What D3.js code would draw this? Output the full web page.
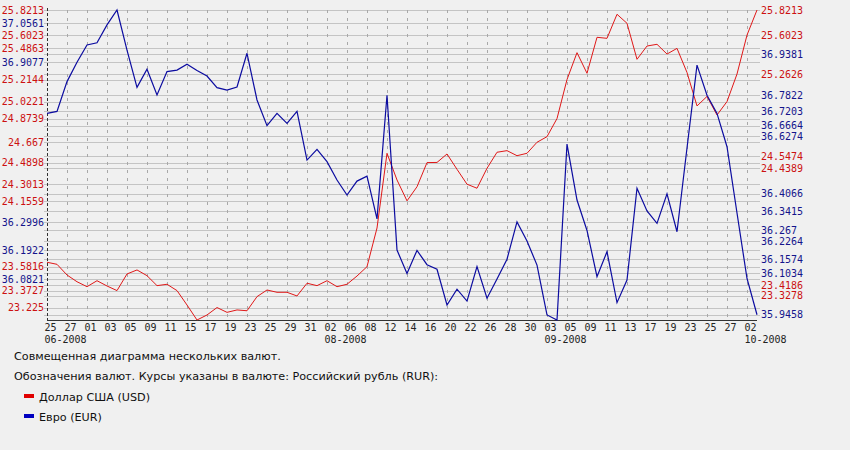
<!DOCTYPE html>
<html>
<head>
<meta charset="utf-8">
<script src="https://cdn.jsdelivr.net/npm/d3@7"></script>
<style>
  html, body { margin: 0; padding: 0; background: #f0f0f0; }
  svg { display: block; }
</style>
</head>
<body>
<svg id="chart" width="850" height="450"></svg>
<script>
// ---------- DATA ----------
const dates = [
  "2008-06-25","2008-06-26","2008-06-27","2008-06-28","2008-07-01","2008-07-02","2008-07-03","2008-07-04",
  "2008-07-05","2008-07-08","2008-07-09","2008-07-10","2008-07-11","2008-07-12","2008-07-15","2008-07-16",
  "2008-07-17","2008-07-18","2008-07-19","2008-07-22","2008-07-23","2008-07-24","2008-07-25","2008-07-26",
  "2008-07-29","2008-07-30","2008-07-31","2008-08-01","2008-08-02","2008-08-05","2008-08-06","2008-08-07",
  "2008-08-08","2008-08-09","2008-08-12","2008-08-13","2008-08-14","2008-08-15","2008-08-16","2008-08-19",
  "2008-08-20","2008-08-21","2008-08-22","2008-08-23","2008-08-26","2008-08-27","2008-08-28","2008-08-29",
  "2008-08-30","2008-09-02","2008-09-03","2008-09-04","2008-09-05","2008-09-06","2008-09-09","2008-09-10",
  "2008-09-11","2008-09-12","2008-09-13","2008-09-16","2008-09-17","2008-09-18","2008-09-19","2008-09-20",
  "2008-09-23","2008-09-24","2008-09-25","2008-09-26","2008-09-27","2008-09-30","2008-10-02","2008-10-03"
];

const usd = [
  23.620, 23.602, 23.509, 23.450, 23.407, 23.459, 23.413, 23.3727,
  23.518, 23.553, 23.503, 23.416, 23.428, 23.3727, 23.247, 23.1162,
  23.160, 23.225, 23.183, 23.204, 23.197, 23.320, 23.378, 23.358,
  23.358, 23.326, 23.437, 23.416, 23.459, 23.407, 23.428, 23.500,
  23.5816, 23.919, 24.571, 24.338, 24.1559, 24.279, 24.4898, 24.491,
  24.565, 24.431, 24.3013, 24.266, 24.440, 24.580, 24.594, 24.550,
  24.571, 24.667, 24.716, 24.8739, 25.2144, 25.449, 25.269, 25.583,
  25.574, 25.784, 25.705, 25.391, 25.507, 25.522, 25.437, 25.4863,
  25.276, 24.984, 25.067, 24.905, 25.0221, 25.2626, 25.6023, 25.8213
];

const eur = [
  36.713, 36.7203, 36.834, 36.9077, 36.9735, 36.982, 37.050, 37.1068,
  36.954, 36.812, 36.881, 36.783, 36.872, 36.878, 36.900, 36.876,
  36.855, 36.811, 36.802, 36.8135, 36.942, 36.764, 36.6664, 36.713,
  36.675, 36.7203, 36.535, 36.576, 36.529, 36.459, 36.402, 36.455,
  36.474, 36.311, 36.7822, 36.1922, 36.1034, 36.191, 36.1365, 36.119,
  35.983, 36.043, 35.998, 36.129, 36.0085, 36.0821, 36.1574, 36.2996,
  36.2264, 36.135, 35.945, 35.9258, 36.596, 36.383, 36.267, 36.091,
  36.186, 35.992, 36.078, 36.428, 36.3415, 36.294, 36.4066, 36.262,
  36.581, 36.897, 36.7822, 36.713, 36.586, 36.3335, 36.084, 35.9458
];

const usdDomain = [23.1162, 25.8213];
const eurDomain = [35.9258, 37.1068];

const leftTicksUSD  = [25.8213, 25.6023, 25.4863, 25.2144, 25.0221, 24.8739, 24.667, 24.4898, 24.3013, 24.1559, 23.5816, 23.3727, 23.225];
const leftTicksEUR  = [37.0561, 36.9077, 36.2996, 36.1922, 36.0821];
const rightTicksUSD = [25.8213, 25.6023, 25.2626, 24.5474, 24.4389, 23.4186, 23.3278];
const rightTicksEUR = [36.9381, 36.7822, 36.7203, 36.6664, 36.6274, 36.4066, 36.3415, 36.267, 36.2264, 36.1574, 36.1034, 35.9458];

const monthLabelDates = ["2008-06-25", "2008-08-02", "2008-09-03", "2008-10-02"];
const monthLabelTexts = ["06-2008", "08-2008", "09-2008", "10-2008"];

const titleText = "Совмещенная диаграмма нескольких валют.";
const subtitleText = "Обозначения валют. Курсы указаны в валюте: Российский рубль (RUR):";
const seriesNames = ["Доллар США (USD)", "Евро (EUR)"];

// ---------- STYLE ----------
const RED_LINE = "#e01818", BLUE_LINE = "#0c0ca0";
const RED_TXT = "#cc1111", BLUE_TXT = "#14148c";
const MONO = "'DejaVu Sans Mono', monospace";
const SANS = "'DejaVu Sans', sans-serif";

const L = 47, R = 757, T = 10, B = 320;

const svg = d3.select("#chart");
svg.append("rect").attr("width", 850).attr("height", 450).attr("fill", "#f0f0f0");

const x = d3.scalePoint().domain(dates).range([L, R]);
const yU = d3.scaleLinear().domain(usdDomain).range([B, T]);
const yE = d3.scaleLinear().domain(eurDomain).range([B, T]);

// horizontal gridlines
const gridG = svg.append("g");
const allGrid = [
  ...leftTicksUSD.map(v => yU(v)), ...leftTicksEUR.map(v => yE(v)),
  ...rightTicksUSD.map(v => yU(v)), ...rightTicksEUR.map(v => yE(v))
];
gridG.selectAll("line.h").data(allGrid).join("line")
  .attr("x1", L - 3).attr("x2", R + 3)
  .attr("y1", d => Math.round(d) + 0.5).attr("y2", d => Math.round(d) + 0.5)
  .attr("stroke", "#c4c4c4").attr("stroke-width", 1);

// vertical dashed gridlines at labelled dates
const labelled = dates.filter((d, i) => i % 2 === 0);
gridG.selectAll("line.v").data(labelled.slice(1)).join("line")
  .attr("x1", d => Math.round(x(d)) + 0.5).attr("x2", d => Math.round(x(d)) + 0.5)
  .attr("y1", T).attr("y2", B)
  .attr("stroke", "#a8a8a8").attr("stroke-width", 1).attr("stroke-dasharray", "3,5");

// axes lines
svg.append("line").attr("x1", L + 0.5).attr("x2", L + 0.5).attr("y1", T - 2).attr("y2", B)
  .attr("stroke", "#333").attr("stroke-dasharray", "3,2");
svg.append("line").attr("x1", L).attr("x2", R).attr("y1", B + 0.5).attr("y2", B + 0.5)
  .attr("stroke", "#333");

// y axis labels via d3 axes
function labelAxis(g, axis, ticks, color) {
  g.call(axis.tickValues(ticks).tickSize(0).tickFormat(d => String(d)));
  g.select(".domain").remove();
  g.selectAll("text").attr("fill", color).style("font-family", MONO).style("font-size", "10px");
}
labelAxis(svg.append("g").attr("transform", `translate(${L - 1},0)`), d3.axisLeft(yU).tickPadding(2), leftTicksUSD, RED_TXT);
labelAxis(svg.append("g").attr("transform", `translate(${L - 1},0)`), d3.axisLeft(yE).tickPadding(2), leftTicksEUR, BLUE_TXT);
labelAxis(svg.append("g").attr("transform", `translate(${R + 1},0)`), d3.axisRight(yU).tickPadding(3), rightTicksUSD, RED_TXT);
labelAxis(svg.append("g").attr("transform", `translate(${R + 1},0)`), d3.axisRight(yE).tickPadding(3), rightTicksEUR, BLUE_TXT);

// x axis labels
const xg = svg.append("g");
xg.selectAll("text.day").data(labelled).join("text")
  .attr("x", d => x(d) - 2.5).attr("y", B + 11)
  .attr("fill", "#222").style("font-family", MONO).style("font-size", "10px")
  .text(d => d.slice(8, 10));
xg.selectAll("text.mon").data(monthLabelDates).join("text")
  .attr("x", d => x(d) - 2.5).attr("y", B + 23)
  .attr("fill", "#222").style("font-family", MONO).style("font-size", "10px")
  .text((d, i) => monthLabelTexts[i]);

// lines
const lineU = d3.line().x((d, i) => x(dates[i])).y(d => yU(d));
const lineE = d3.line().x((d, i) => x(dates[i])).y(d => yE(d));
svg.append("path").datum(usd).attr("d", lineU).attr("fill", "none").attr("stroke", RED_LINE).attr("stroke-width", 1);
svg.append("path").datum(eur).attr("d", lineE).attr("fill", "none").attr("stroke", BLUE_LINE).attr("stroke-width", 1.2);

// texts and legend
const tg = svg.append("g").style("font-family", SANS).style("font-size", "11.2px").attr("fill", "#111");
tg.append("text").attr("x", 14).attr("y", 360).text(titleText);
tg.append("text").attr("x", 14).attr("y", 380).text(subtitleText);
const legColors = ["#e00000", "#0000c0"];
seriesNames.forEach((n, i) => {
  tg.append("rect").attr("x", 24).attr("y", 394 + 20 * i).attr("width", 10).attr("height", 4).attr("fill", legColors[i]);
  tg.append("text").attr("x", 39).attr("y", 400.5 + 20 * i).text(n);
});
</script>
</body>
</html>
